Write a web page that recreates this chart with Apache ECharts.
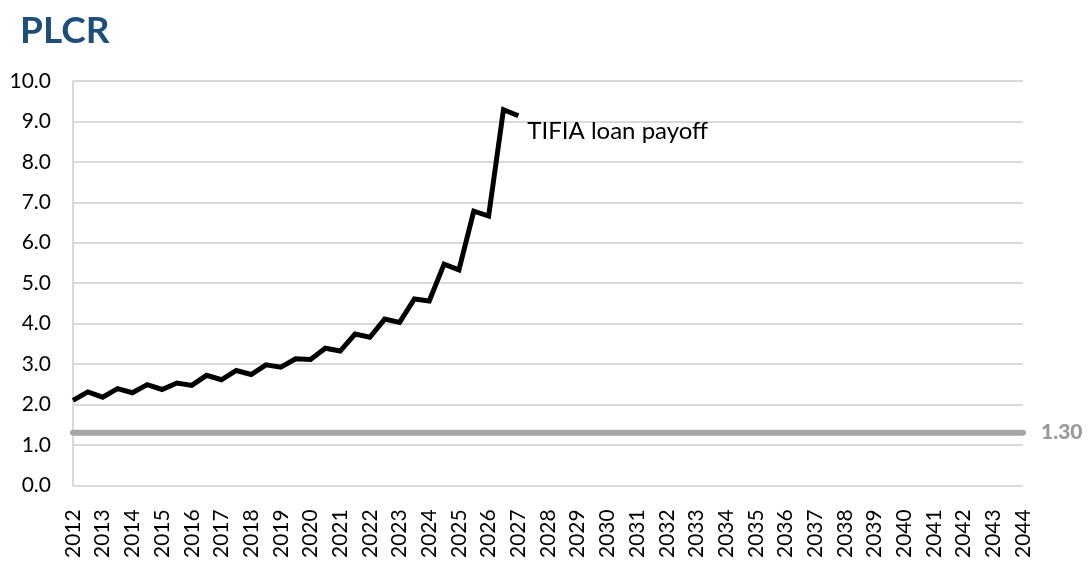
<!doctype html>
<html>
<head>
<meta charset="utf-8">
<title>PLCR</title>
<script src="https://cdn.jsdelivr.net/npm/echarts@6/dist/echarts.min.js"></script>
<style>
  html, body { margin: 0; padding: 0; background: #fff; }
  #main { width: 1092px; height: 561px; }
</style>
</head>
<body>
<div id="main"></div>
<script>
// semi-annual periods, 2012.0 .. 2027.0
var periods = [2012, 2012.5, 2013, 2013.5, 2014, 2014.5, 2015, 2015.5, 2016, 2016.5,
    2017, 2017.5, 2018, 2018.5, 2019, 2019.5, 2020, 2020.5, 2021, 2021.5,
    2022, 2022.5, 2023, 2023.5, 2024, 2024.5, 2025, 2025.5, 2026, 2026.5, 2027];
var plcr = [2.10, 2.31, 2.18, 2.39, 2.29, 2.49, 2.37, 2.53, 2.47, 2.72,
    2.61, 2.84, 2.74, 2.98, 2.92, 3.13, 3.11, 3.39, 3.32, 3.74,
    3.66, 4.11, 4.03, 4.61, 4.56, 5.47, 5.33, 6.78, 6.66, 9.29, 9.14];
var minimum = 1.30;
var firstYear = 2012;
var lastYear = 2044;
var annotation = 'TIFIA loan payoff';

var chart = echarts.init(document.getElementById('main'));

var lastIdx = periods.length - 1;

chart.setOption({
    animation: false,
    title: {
        text: 'PLCR',
        left: 15,
        top: 8,
        textStyle: { color: '#1f4e79', fontSize: 37, fontWeight: 'bold', fontFamily: 'Lato' }
    },
    grid: { left: 73, right: 69, top: 81, bottom: 74 },
    xAxis: {
        type: 'value',
        min: firstYear,
        max: lastYear,
        interval: 1,
        axisLine: { show: false },
        axisTick: { show: false },
        splitLine: { show: false },
        axisLabel: {
            rotate: 90,
            margin: 24,
            fontSize: 21,
            fontFamily: 'Lato',
            color: '#000',
            formatter: function (v) { return String(v); }
        }
    },
    yAxis: {
        type: 'value',
        min: 0,
        max: 10,
        interval: 1,
        axisLine: { show: true, lineStyle: { color: '#d9d9d9', width: 2 } },
        axisTick: { show: false },
        splitLine: { lineStyle: { color: '#d9d9d9', width: 2 } },
        axisLabel: {
            margin: 22,
            fontSize: 21,
            fontFamily: 'Lato',
            color: '#000',
            formatter: function (v) { return v.toFixed(1); }
        }
    },
    series: [
        {
            type: 'line',
            data: [[firstYear, minimum], [lastYear, minimum]],
            symbol: 'none',
            lineStyle: { color: '#a6a6a6', width: 6, cap: 'round' },
            endLabel: {
                show: true,
                distance: 18,
                formatter: minimum.toFixed(2),
                color: '#999999',
                fontSize: 21,
                fontWeight: 900,
                fontFamily: 'Lato'
            },
            z: 2
        },
        {
            type: 'line',
            data: periods.map(function (p, i) { return [p, plcr[i]]; }),
            symbol: 'none',
            lineStyle: { color: '#000', width: 5, join: 'miter' },
            markPoint: {
                symbol: 'circle',
                symbolSize: 0,
                data: [{
                    coord: [periods[lastIdx], plcr[lastIdx]],
                    label: {
                        show: true,
                        position: 'right',
                        offset: [4, 15],
                        formatter: annotation,
                        color: '#000',
                        fontSize: 24,
                        fontFamily: 'Lato'
                    }
                }]
            },
            z: 3
        }
    ]
});

window.onresize = chart.resize;
</script>
</body>
</html>
